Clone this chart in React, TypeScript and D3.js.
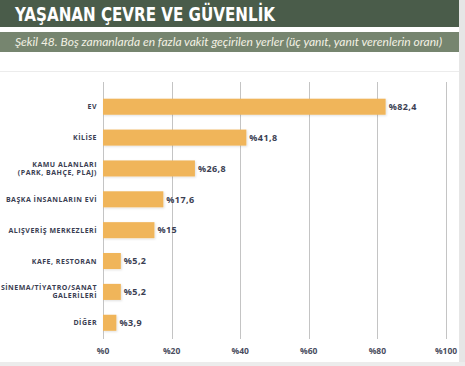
import { useEffect, useRef } from "react";
import * as d3 from "d3";

const categories: string[][] = [
  ["EV"],
  ["KİLİSE"],
  ["KAMU ALANLARI", "(PARK, BAHÇE, PLAJ)"],
  ["BAŞKA İNSANLARIN EVİ"],
  ["ALIŞVERİŞ MERKEZLERİ"],
  ["KAFE, RESTORAN"],
  ["SİNEMA/TİYATRO/SANAT", "GALERİLERİ"],
  ["DİĞER"],
];
const values = [82.4, 41.8, 26.8, 17.6, 15, 5.2, 5.2, 3.9];
const xTicks = [0, 20, 40, 60, 80, 100];

const title = "YAŞANAN ÇEVRE VE GÜVENLİK";
const subtitle =
  "Şekil 48. Boş zamanlarda en fazla vakit geçirilen yerler (üç yanıt, yanıt verenlerin oranı)";

const W = 465;
const H = 366;

export default function App() {
  const svgRef = useRef<SVGSVGElement>(null);

  useEffect(() => {
    if (!svgRef.current) return;
    const svg = d3.select(svgRef.current);
    svg.selectAll("*").remove();

    const labelColor = "#3b3e52";

    // background + page frame
    svg.append("rect").attr("width", W).attr("height", H).attr("fill", "#fff");
    svg.append("rect").attr("x", 459).attr("y", 0).attr("width", 6).attr("height", H).attr("fill", "#e6e6e6");
    svg.append("rect").attr("x", 0).attr("y", 362).attr("width", W).attr("height", 4).attr("fill", "#ececec");

    // header bands
    svg.append("rect").attr("x", 0).attr("y", 0).attr("width", 459).attr("height", 27).attr("fill", "#4a5c4a");
    svg.append("rect").attr("x", 0).attr("y", 32).attr("width", 459).attr("height", 20).attr("fill", "#76856f");
    svg.append("line")
      .attr("x1", 0).attr("x2", 459).attr("y1", 71.5).attr("y2", 71.5)
      .attr("stroke", "#ececec").attr("stroke-width", 1);

    svg.append("text")
      .attr("x", 15).attr("y", 21)
      .attr("font-family", "'Liberation Sans Narrow', 'DejaVu Sans Condensed', Roboto, sans-serif")
      .attr("font-weight", 700)
      .attr("font-size", 19.5)
      .attr("fill", "#ffffff")
      .attr("textLength", 260)
      .attr("lengthAdjust", "spacingAndGlyphs")
      .text(title);

    svg.append("text")
      .attr("x", 15).attr("y", 46)
      .attr("font-family", "Lato, 'Open Sans', sans-serif")
      .attr("font-style", "italic")
      .attr("font-size", 11.5)
      .attr("fill", "#f3f1e4")
      .attr("textLength", 427)
      .attr("lengthAdjust", "spacingAndGlyphs")
      .text(subtitle);

    // scales
    const x = d3.scaleLinear().domain([0, 100]).range([103, 446]);
    const y = d3
      .scaleBand<number>()
      .domain(d3.range(values.length))
      .range([91.3, 338.2])
      .paddingInner(0.48)
      .paddingOuter(0.24);

    // grid
    svg.append("g")
      .selectAll("line")
      .data(xTicks)
      .join("line")
      .attr("x1", (d) => Math.round(x(d)) + 0.5)
      .attr("x2", (d) => Math.round(x(d)) + 0.5)
      .attr("y1", 82)
      .attr("y2", 339)
      .attr("stroke", "#c4c4c4")
      .attr("stroke-width", 1);

    svg.append("g")
      .selectAll("text")
      .data(xTicks)
      .join("text")
      .attr("x", (d) => x(d))
      .attr("y", 354)
      .attr("text-anchor", "middle")
      .attr("font-family", "'Open Sans', sans-serif")
      .attr("font-weight", 700)
      .attr("font-size", 8.5)
      .attr("fill", "#4a4d60")
      .text((d) => `%${d}`);

    // shadow
    const defs = svg.append("defs");
    defs.append("filter")
      .attr("id", "barShadow")
      .attr("x", "-10%").attr("y", "-30%").attr("width", "130%").attr("height", "160%")
      .append("feDropShadow")
      .attr("dx", 1).attr("dy", 1).attr("stdDeviation", 1.2)
      .attr("flood-color", "#000").attr("flood-opacity", 0.12);

    // bars
    svg.append("g")
      .selectAll("rect")
      .data(values)
      .join("rect")
      .attr("x", x(0))
      .attr("y", (_, i) => y(i)!)
      .attr("width", (d) => x(d) - x(0))
      .attr("height", y.bandwidth())
      .attr("fill", "#f0b55a")
      .attr("filter", "url(#barShadow)");

    // value labels
    svg.append("g")
      .selectAll("text")
      .data(values)
      .join("text")
      .attr("x", (d) => x(d) + 3)
      .attr("y", (_, i) => y(i)! + y.bandwidth() / 2 + 3.2)
      .attr("font-family", "'Open Sans', sans-serif")
      .attr("font-weight", 700)
      .attr("font-size", 9)
      .attr("letter-spacing", 0.4)
      .attr("fill", labelColor)
      .text((d) => "%" + String(d).replace(".", ","));

    // category labels
    const cat = svg.append("g")
      .selectAll("text")
      .data(categories)
      .join("text")
      .attr("text-anchor", "end")
      .attr("font-family", "'Open Sans', sans-serif")
      .attr("font-weight", 700)
      .attr("font-size", 7)
      .attr("letter-spacing", 0.5)
      .attr("fill", labelColor)
      .attr("y", (d, i) => y(i)! + y.bandwidth() / 2 + 2.5 - ((d.length - 1) * 8) / 2);

    cat.selectAll("tspan")
      .data((d) => d)
      .join("tspan")
      .attr("x", 97)
      .attr("dy", (_, j) => (j === 0 ? 0 : 8))
      .text((t) => t);
  }, []);

  return (
    <svg
      ref={svgRef}
      width={W}
      height={H}
      style={{ position: "absolute", left: 0, top: 0, display: "block" }}
    />
  );
}
